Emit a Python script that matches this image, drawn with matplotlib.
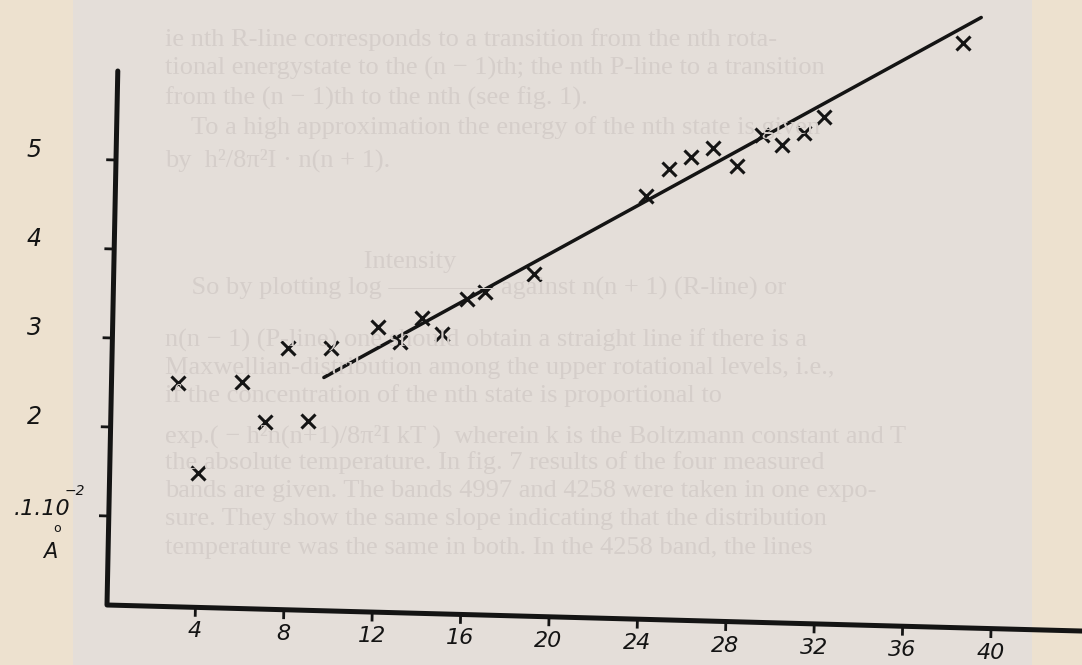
import numpy as np
import matplotlib
matplotlib.use("Agg")
import matplotlib.pyplot as plt
from matplotlib.transforms import Affine2D

# measured points (n, value in 10^-2 A units)
n_vals = [3.0, 4.0, 5.9, 7.0, 7.95, 8.9, 9.9, 12.0, 13.0, 14.0, 14.9, 16.0, 16.8,
          19.0, 24.0, 25.0, 26.0, 27.0, 28.1, 29.2, 30.1, 31.1, 32.0, 38.2]
y_vals = [2.51, 1.51, 2.54, 2.10, 2.94, 2.13, 2.95, 3.20, 3.04, 3.32, 3.14, 3.54, 3.63,
          3.84, 4.75, 5.06, 5.21, 5.31, 5.12, 5.48, 5.37, 5.51, 5.69, 6.57]

# straight line drawn by hand through the points
fit_x = [9.6, 39.0]
fit_y = [2.62, 6.86]

x_ticks = [4, 8, 12, 16, 20, 24, 28, 32, 36, 40]
x_labels = ['4', '8', '12', '16', '20', '24', '28', '32', '36', '40']
y_ticks = [1, 2, 3, 4, 5]
y_labels = ['', '2', '3', '4', '5']

# faint print showing through from the page
page_lines = [
    "ie nth R-line corresponds to a transition from the nth rota-",
    "tional energystate to the (n \u2212 1)th; the nth P-line to a transition",
    "from the (n \u2212 1)th to the nth (see fig. 1).",
    "    To a high approximation the energy of the nth state is given",
    "by  h\u00b2/8\u03c0\u00b2I \u00b7 n(n + 1).",
    "                              Intensity",
    "    So by plotting log \u2014\u2014\u2014\u2014 against n(n + 1) (R-line) or",
    "n(n \u2212 1) (P-line) one should obtain a straight line if there is a",
    "Maxwellian-distribution among the upper rotational levels, i.e.,",
    "if the concentration of the nth state is proportional to",
    "exp.( \u2212 h\u00b2n(n+1)/8\u03c0\u00b2I kT )  wherein k is the Boltzmann constant and T",
    "the absolute temperature. In fig. 7 results of the four measured",
    "bands are given. The bands 4997 and 4258 were taken in one expo-",
    "sure. They show the same slope indicating that the distribution",
    "temperature was the same in both. In the 4258 band, the lines",
]
page_rows = [40, 68, 98, 128, 160, 262, 288, 340, 368, 396, 436, 463, 491, 519, 548]

W, H = 1082, 665
fig = plt.figure(figsize=(W / 100, H / 100), dpi=100)
fig.patch.set_facecolor('#EDE1CF')
fig.add_artist(plt.Rectangle((73 / W, 0), (1032 - 73) / W, 1, transform=fig.transFigure,
                             facecolor='#E4DED9', edgecolor='none', zorder=0))

for txt, row in zip(page_lines, page_rows):
    fig.text(165 / W, 1 - row / H, txt, fontsize=19, family='Liberation Serif',
             color='#D5CECA', va='center', ha='left', zorder=1)

ax = fig.add_axes([0, 0, 1, 1])
ax.set_xlim(-107 / 22.1, (W - 107) / 22.1)
ax.set_ylim(-60 / 89, (H - 60) / 89)
ax.axis('off')
ax.patch.set_alpha(0)

# the hand-drawn axes lean a little: small shear on top of the data transform
shear = Affine2D(np.array([[1.0, 0.0814, 0.0],
                           [-0.00663, 1.0, 0.0],
                           [0.0, 0.0, 1.0]]))
tr = shear + ax.transData

ink = '#141414'
ax.plot([0, 0, 45], [6.0, 0, 0], color=ink, lw=3.6, transform=tr,
        solid_joinstyle='round', solid_capstyle='round', clip_on=False)

for t, lab in zip(x_ticks, x_labels):
    ax.plot([t, t], [0, -0.09], color=ink, lw=2, transform=tr, clip_on=False)
    ax.text(t, -0.27, lab, transform=tr, ha='center', va='center',
            fontsize=16, style='italic', color=ink, clip_on=False)

for t, lab in zip(y_ticks, y_labels):
    ax.plot([0, -0.38], [t, t], color=ink, lw=2, transform=tr)
    if lab:
        ax.text(-3.3, t + 0.11, lab, ha='center', va='center',
                fontsize=17, style='italic', color=ink)

# unit label next to the "1" tick
ax.text(-2.95, 1.08, '.1.10', ha='center', va='center', fontsize=16,
        style='italic', color=ink)
ax.text(-1.45, 1.28, '\u22122', ha='center', va='center', fontsize=10,
        style='italic', color=ink)
ax.text(-2.28, 0.86, 'o', ha='center', va='center', fontsize=9, color=ink)
ax.text(-2.58, 0.59, 'A', ha='center', va='center', fontsize=15,
        style='italic', color=ink)

ax.plot(fit_x, fit_y, color=ink, lw=2.5, transform=tr, solid_capstyle='round')
ax.plot(n_vals, y_vals, linestyle='none', marker='x', ms=10, mew=2.2,
        color=ink, transform=tr)

fig.savefig('out.png', dpi=100, facecolor=fig.get_facecolor())
